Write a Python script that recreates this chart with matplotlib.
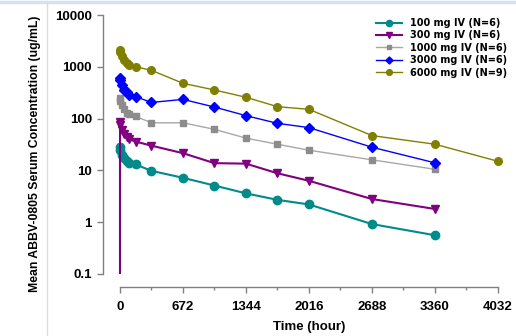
import matplotlib
matplotlib.use("Agg")
import matplotlib.pyplot as plt
from matplotlib.lines import Line2D
from matplotlib.ticker import FixedLocator, NullLocator, FixedFormatter

plt.rcParams['font.family'] = ['Liberation Sans', 'DejaVu Sans']
plt.rcParams['font.weight'] = 'bold'

# sampling times (hours)
time_h = [0.5, 4, 24, 48, 72, 96, 168, 336, 672, 1008, 1344, 1680, 2016, 2688, 3360]
time_300 = [0] + time_h
time_6000 = time_h + [4032]

# mean serum concentrations (ug/mL)
conc_100 = [28, 25, 20, 17, 15, 14, 13, 9.8, 7.2, 5.1, 3.6, 2.7, 2.2, 0.92, 0.56]
conc_300 = [0.1, 85, 75, 60, 50, 45, 40, 36, 30, 21.5, 13.8, 13.5, 8.8, 6.3, 2.8, 1.8]
conc_1000 = [245, 220, 180, 150, 130, 120, 110, 83, 83, 62, 42, 32, 24.5, 16, 10.5]
conc_3000 = [620, 560, 450, 360, 320, 290, 265, 205, 235, 167, 114, 81, 67, 28, 14]
conc_6000 = [2100, 1900, 1600, 1350, 1200, 1100, 1000, 855, 480, 357, 258, 170, 151, 47, 32, 15]

labels = ['100 mg IV (N=6)', '300 mg IV (N=6)', '1000 mg IV (N=6)',
          '3000 mg IV (N=6)', '6000 mg IV (N=9)']
x_ticks = [0, 672, 1344, 2016, 2688, 3360, 4032]
y_ticks = [0.1, 1, 10, 100, 1000, 10000]
y_labels = ['0.1', '1', '10', '100', '1000', '10000']

fig = plt.figure(figsize=(5.16, 3.36), dpi=100)
ax = fig.add_axes([103 / 516, 1 - 274 / 336, 402 / 516, 259 / 336])

ax.plot(time_h, conc_100, color='#008B8B', lw=1.5, marker='o', ms=6, label=labels[0])
ax.plot(time_300, conc_300, color='#800080', lw=1.5, marker='v', ms=5.5,
        markevery=list(range(1, len(time_300))), label=labels[1])
ax.plot(time_h, conc_1000, color='#A8A8A8', lw=1, marker='s', ms=4.5,
        mfc='#8C8C8C', mec='#8C8C8C', label=labels[2])
ax.plot(time_h, conc_3000, color='#0000FF', lw=1, marker='D', ms=4.8, label=labels[3])
ax.plot(time_6000, conc_6000, color='#808000', lw=1, marker='o', ms=5.5, label=labels[4])

ax.set_yscale('log')
ax.set_ylim(0.1, 10000)
ax.set_xlim(-181, 4107)

ax.yaxis.set_major_locator(FixedLocator(y_ticks))
ax.yaxis.set_major_formatter(FixedFormatter(y_labels))
ax.yaxis.set_minor_locator(NullLocator())
ax.xaxis.set_major_locator(FixedLocator(x_ticks))
ax.xaxis.set_minor_locator(FixedLocator([t + 336 for t in x_ticks[:-1]]))

for s in ['top', 'right']:
    ax.spines[s].set_visible(False)
for s in ['left', 'bottom']:
    ax.spines[s].set_color('#808080')
    ax.spines[s].set_linewidth(1)
ax.spines['bottom'].set_position(('outward', 9.4))
ax.spines['bottom'].set_bounds(0, 4032)

ax.tick_params(axis='both', which='major', colors='#808080', labelcolor='black',
               labelsize=9.5, length=4, width=1)
ax.tick_params(axis='x', which='minor', colors='#808080', length=2.5, width=1)
ax.tick_params(axis='y', pad=4)
ax.tick_params(axis='x', pad=6)
for lab in ax.get_xticklabels() + ax.get_yticklabels():
    lab.set_fontweight('bold')

ax.set_xlabel('Time (hour)', fontsize=9.5, fontweight='bold')
ax.xaxis.set_label_coords(0.512, -0.205)
ax.xaxis.label.set_verticalalignment('center')
ax.set_ylabel('Mean ABBV-0805 Serum Concentration (ug/mL)', fontsize=8.8, fontweight='bold')
ax.yaxis.set_label_coords(-0.169, 0.465)
ax.yaxis.label.set_verticalalignment('center')

ax.legend(loc='upper left', bbox_to_anchor=(376 / 516, 1 - 18 / 336),
          bbox_transform=fig.transFigure, frameon=False,
          prop={'family': 'DejaVu Sans', 'weight': 'bold', 'size': 7.0},
          handlelength=2.7, handletextpad=0.75,
          labelspacing=0.25, borderpad=0, borderaxespad=0, markerscale=0.75)

# page frame remnants
fig.add_artist(Line2D([0, 1], [1 - 1.5 / 336, 1 - 1.5 / 336], transform=fig.transFigure,
                      color='#D6E2EE', lw=2.5))
fig.add_artist(Line2D([47 / 516, 47 / 516], [0, 1 - 3 / 336], transform=fig.transFigure,
                      color='#DDDDDD', lw=1))

fig.savefig('out.png', dpi=100)
